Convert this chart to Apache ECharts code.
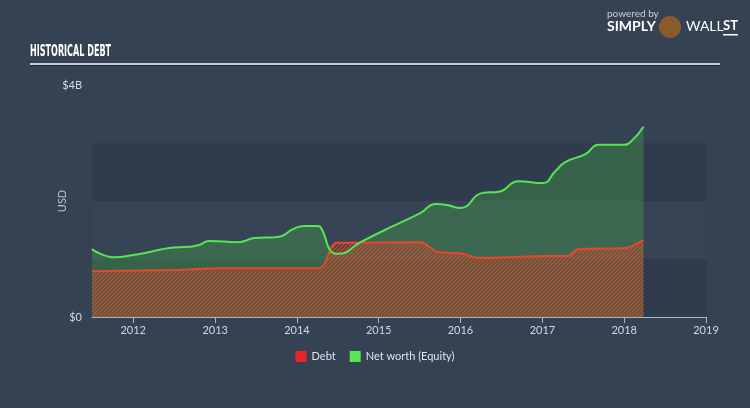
<!DOCTYPE html>
<html><head><meta charset="utf-8">
<script src="https://cdn.jsdelivr.net/npm/echarts@6/dist/echarts.min.js"></script>
<style>html,body{margin:0;padding:0;background:#344254;}#c{width:750px;height:408px;}</style>
</head><body><div id="c"></div>
<script>
// ---- data ----
var netWorthDates = ['2011-07-01','2011-10-08','2012-01-01','2012-03-15','2012-06-10','2012-09-05','2012-10-20','2012-12-05','2013-04-12','2013-06-25','2013-10-08','2013-12-17','2014-02-03','2014-04-05','2014-04-27','2014-05-23','2014-06-13','2014-07-05','2014-10-12','2015-01-12','2015-07-05','2015-09-13','2015-11-03','2016-01-01','2016-04-08','2016-06-20','2016-09-16','2017-01-01','2017-03-01','2017-04-13','2017-07-12','2017-09-09','2017-12-28','2018-01-30','2018-03-28'];
var netWorthValues = [1.17,1.03,1.07,1.12,1.19,1.21,1.24,1.31,1.29,1.36,1.38,1.52,1.57,1.57,1.47,1.19,1.10,1.09,1.29,1.47,1.79,1.95,1.93,1.88,2.14,2.16,2.34,2.31,2.52,2.67,2.81,2.97,2.97,3.02,3.28];
var debtDates = ['2011-07-01','2012-07-01','2013-01-20','2014-04-05','2014-06-10','2014-06-25','2015-07-05','2015-08-22','2015-09-20','2016-01-01','2016-03-20','2016-07-20','2017-01-15','2017-04-22','2017-06-10','2018-01-05','2018-03-28'];
var debtValues = [0.79,0.81,0.84,0.84,1.24,1.28,1.29,1.19,1.12,1.10,1.02,1.03,1.05,1.05,1.17,1.19,1.33];
var yearTicks = [2012,2013,2014,2015,2016,2017,2018,2019];
var xRange = ['2011-07-01','2019-01-01'];
var yTickLabels = {0:'$0',4:'$4B'};

function t(s){var p=s.split('-');return new Date(+p[0],+p[1]-1,+p[2]).getTime();}
function pairs(d,v){return d.map(function(x,i){return [t(x),v[i]];});}
function ts(y){return new Date(y,0,1).getTime();}

// hatch pattern
var P = 4;
var pc = document.createElement('canvas');
pc.width = P; pc.height = P;
var g = pc.getContext('2d');
g.strokeStyle = '#e0452b'; g.lineWidth = 1.5;
g.beginPath();
g.moveTo(0,P); g.lineTo(P,0);
g.moveTo(-1,1); g.lineTo(1,-1);
g.moveTo(P-1,P+1); g.lineTo(P+1,P-1);
g.stroke();

var chart = echarts.init(document.getElementById('c'));
chart.setOption({
  backgroundColor:'#344254',
  animation:false,
  grid:{left:92,right:44,top:85,bottom:91},
  legend:{
    bottom:41,left:'center',itemWidth:11,itemHeight:11,itemGap:14,icon:'rect',
    textStyle:{color:'#dfe3e8',fontSize:11,fontFamily:'Lato, "Open Sans", sans-serif'},
    data:[{name:'Debt',itemStyle:{color:'#e8262a'}},{name:'Net worth (Equity)',itemStyle:{color:'#55e652'}}]
  },
  xAxis:{
    type:'value',
    min:t(xRange[0]), max:t(xRange[1]),
    axisLine:{lineStyle:{color:'#aeb8c2',width:1}},
    axisTick:{show:true,length:6,lineStyle:{color:'#aeb8c2'},customValues:yearTicks.map(ts)},
    axisLabel:{color:'#d3d8de',fontSize:11,margin:8,fontFamily:'Lato, "Open Sans", sans-serif',
      customValues:yearTicks.map(ts),
      formatter:function(v){return String(new Date(v).getFullYear());}},
    splitLine:{show:false}
  },
  yAxis:{
    type:'value',min:0,max:4,interval:1,
    name:'USD',nameLocation:'middle',nameGap:24,nameRotate:90,nameMoveOverlap:false,
    nameTextStyle:{color:'#b8c1cb',fontSize:11,fontFamily:'Lato, "Open Sans", sans-serif'},
    axisLine:{show:false},axisTick:{show:false},
    axisLabel:{color:'#d3d8de',fontSize:11,margin:10,fontFamily:'Lato, "Open Sans", sans-serif',
      formatter:function(v){return yTickLabels[v]||'';}},
    splitLine:{show:false},
    splitArea:{show:true,areaStyle:{color:['#2f3c4d','#364456','#2f3c4d','#344254']}}
  },
  series:[
    {name:'Net worth (Equity)',type:'line',smooth:0.5,symbol:'none',
     data:pairs(netWorthDates,netWorthValues),
     lineStyle:{width:0},
     areaStyle:{color:'rgba(72,178,74,0.33)',opacity:1},
     itemStyle:{color:'#55e652'},z:1},
    {name:'Debt',type:'line',smooth:0.35,symbol:'none',
     data:pairs(debtDates,debtValues),
     lineStyle:{color:'#e5482c',width:2},
     areaStyle:{color:{image:pc,repeat:'repeat'},opacity:0.85},
     itemStyle:{color:'#e8262a'},z:2},
    {name:'nwline',type:'line',smooth:0.5,symbol:'none',
     data:pairs(netWorthDates,netWorthValues),
     lineStyle:{color:'#55e652',width:2},z:3}
  ],
  graphic:[
    {type:'text',x:30,y:44,style:{text:'HISTORICAL DEBT',fill:'#ffffff',font:'bold 16px "DejaVu Sans Condensed", sans-serif'},scaleX:0.56},
    {type:'rect',shape:{x:30,y:63,width:690,height:2},style:{fill:'#c3ccd4'}},
    {type:'rect',shape:{x:30,y:65,width:690,height:1},style:{fill:'#1f2833'}},
    {type:'text',x:607,y:9,style:{text:'powered by',fill:'#c8ced6',font:'10px Lato, sans-serif'}},
    {type:'text',x:607,y:19,style:{text:'SIMPLY',fill:'#ffffff',font:'bold 14px Lato, "Open Sans", sans-serif'}},
    {type:'circle',shape:{cx:670,cy:27,r:11},style:{fill:'#8a5a2b'}},
    {type:'text',x:686,y:19,style:{text:'WALL',fill:'#ffffff',font:'14px Lato, "Open Sans", sans-serif'}},
    {type:'text',x:723,y:19,style:{text:'ST',fill:'#ffffff',font:'bold 13px Lato, "Open Sans", sans-serif'}},
    {type:'rect',shape:{x:723,y:34,width:15,height:1.5},style:{fill:'#ffffff'}}
  ]
});
</script></body></html>
